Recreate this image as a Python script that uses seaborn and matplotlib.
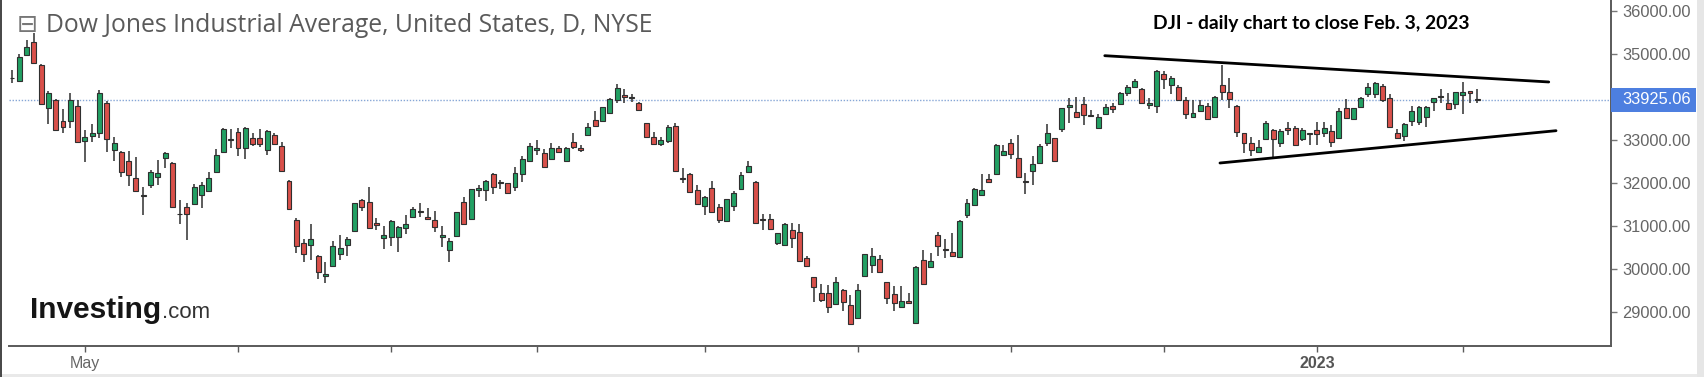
import matplotlib
matplotlib.use("Agg")
import matplotlib.pyplot as plt
import matplotlib.patches as mpatches
import seaborn as sns
import pandas as pd
import numpy as np

sns.set_theme(style="white")
plt.rcParams['font.family'] = ['Liberation Sans', 'DejaVu Sans']

# trading calendar of the chart (NYSE daily)
START_DATE = "2022-04-18"
END_DATE = "2023-02-03"
HOLIDAYS = ["2022-05-30", "2022-06-20", "2022-07-04", "2022-09-05",
            "2022-11-24", "2022-12-26", "2023-01-02", "2023-01-16"]

opens = [34425, 34374, 34971, 35266, 34739, 33746, 33925, 33437, 33437, 33792,
         32972, 33095, 33151, 33862, 32762, 32709, 32507, 32118, 31693, 31949,
         32142, 32584, 32467, 31282, 31444, 31507, 31716, 31816, 32244, 32723,
         33018, 33174, 32802, 33035, 33035, 32762, 33111, 32856, 32049, 31135,
         30607, 30554, 30298, 29840, 30072, 30345, 30554, 30879, 31600, 31560,
         31058, 30709, 30733, 30733, 30942, 31198, 31344, 31212, 31135, 30747,
         30437, 30763, 31560, 31151, 31833, 31833, 32198, 32002, 31988, 31895,
         32204, 32514, 32762, 32686, 32553, 32816, 32514, 32955, 32816, 33111,
         33460, 33437, 33630, 33925, 34030, 33972, 33848, 33383, 33072, 32902,
         32979, 33321, 32105, 32204, 31833, 31461, 31872, 31430, 31119, 31467,
         31856, 32244, 32025, 31158, 31158, 30593, 30554, 30902, 30863, 30245,
         29817, 29445, 29431, 29182, 29508, 29159, 28849, 29833, 30089, 30221,
         29701, 29415, 29105, 29252, 28747, 30205, 30035, 30786, 30449, 30384,
         30268, 31251, 31484, 31716, 32081, 32204, 32646, 32918, 32570, 32042,
         32281, 32467, 32918, 33035, 33244, 33769, 33653, 33832, 33576, 33267,
         33600, 33786, 33825, 34095, 34220, 34174, 33820, 33786, 34530, 34274,
         34220, 33925, 33537, 33676, 33786, 33537, 34274, 34118, 33786, 33151,
         32918, 32723, 33011, 33228, 32932, 33267, 33267, 33011, 33135, 33228,
         33151, 33211, 33035, 33732, 33483, 33755, 34058, 34058, 34251, 33978,
         33165, 33088, 33437, 33420, 33537, 33885, 33988, 33862, 33825, 34041,
         34141, 33937]

closes = [34437, 34918, 35164, 34778, 33825, 34081, 33228, 33304, 33925, 32955,
          33072, 33151, 34081, 33018, 32918, 32244, 32181, 31816, 31716, 32258,
          32235, 32686, 31444, 31263, 31268, 31909, 31949, 32118, 32646, 33244,
          32988, 32802, 33281, 32895, 32895, 33211, 32902, 32274, 31391, 30531,
          30345, 30686, 29933, 29880, 30538, 30477, 30686, 31523, 31430, 30942,
          31026, 30786, 31119, 30965, 31042, 31391, 31328, 31158, 30979, 30786,
          30654, 31314, 31035, 31849, 31872, 32049, 31895, 32025, 31756, 32221,
          32546, 32856, 32816, 32374, 32816, 32723, 32816, 32825, 32762, 33304,
          33327, 33755, 33941, 34197, 34006, 33995, 33692, 33058, 32902, 32995,
          33304, 32281, 32077, 31779, 31507, 31677, 31314, 31135, 31616, 31770,
          32181, 32391, 31072, 31142, 30919, 30826, 31042, 30709, 30189, 30066,
          29584, 29275, 29119, 29701, 29235, 28717, 29508, 30337, 30298, 29933,
          29315, 29198, 29252, 29198, 30049, 29647, 30189, 30531, 30426, 30305,
          31119, 31537, 31849, 31833, 32025, 32879, 32746, 32670, 32142, 32019,
          32437, 32856, 33165, 32514, 33732, 33809, 33537, 33576, 33553, 33537,
          33769, 33709, 34095, 34220, 34374, 33848, 33844, 34606, 34406, 34430,
          33925, 33600, 33616, 33809, 33476, 34002, 34118, 33941, 33188, 32918,
          32762, 32839, 33383, 33011, 33211, 33228, 32879, 33228, 33165, 33135,
          33281, 32955, 33676, 33500, 33732, 33965, 34220, 34327, 33925, 33304,
          33035, 33367, 33669, 33769, 33769, 33978, 34018, 33709, 34118, 34118,
          34081, 33925.06]

highs = [34622, 34988, 35320, 35476, 34762, 34134, 33948, 33716, 34081, 33925,
         33228, 33360, 34158, 33902, 33072, 32739, 32739, 32607, 31909, 32298,
         32530, 32723, 32490, 31600, 31537, 31965, 32025, 32258, 32779, 33267,
         33244, 33267, 33297, 33151, 33244, 33228, 33165, 32955, 32065, 31175,
         30686, 31042, 30321, 30166, 30647, 30786, 30747, 31530, 31616, 31909,
         31175, 30996, 31135, 30996, 31251, 31430, 31537, 31407, 31351, 31002,
         30709, 31321, 31677, 31856, 31949, 32065, 32235, 32065, 31995, 32374,
         32623, 32932, 32995, 32779, 32918, 32856, 32825, 33151, 32879, 33383,
         33669, 33762, 33965, 34297, 34181, 34065, 33885, 33390, 33188, 33072,
         33344, 33383, 32337, 32228, 31949, 31693, 32049, 31507, 31623, 31816,
         32244, 32514, 32042, 31275, 31275, 30840, 31058, 31072, 31042, 30298,
         29817, 29647, 29624, 29817, 29524, 29391, 29647, 30345, 30477, 30321,
         29701, 29601, 29601, 29445, 30066, 30437, 30361, 30863, 30686, 30826,
         31135, 31616, 31872, 32204, 32204, 32902, 32879, 33011, 33111, 32221,
         32623, 32902, 33367, 33042, 33732, 33965, 33988, 34002, 33692, 33593,
         33825, 33848, 34118, 34274, 34406, 34197, 33965, 34622, 34606, 34483,
         34274, 34002, 33925, 33925, 33848, 34018, 34739, 34430, 33809, 33165,
         33058, 32995, 33444, 33244, 33244, 33420, 33321, 33267, 33165, 33420,
         33420, 33344, 33732, 33941, 33739, 33988, 34327, 34350, 34297, 34058,
         33244, 33397, 33786, 33786, 33786, 33978, 34174, 34081, 34118, 34350,
         34141, 34174]

lows = [34320, 34367, 34960, 34755, 33809, 33360, 33204, 33151, 33281, 32918,
        32490, 32942, 33035, 32723, 32507, 32142, 31926, 31809, 31251, 31872,
        31949, 32351, 31421, 31035, 30670, 31495, 31407, 31793, 32235, 32709,
        32802, 32623, 32546, 32856, 32839, 32646, 32879, 32263, 31379, 30375,
        30166, 30205, 29763, 29677, 30066, 30205, 30298, 30868, 31351, 30930,
        30902, 30454, 30531, 30398, 30803, 31175, 31212, 31151, 30863, 30514,
        30166, 30751, 31019, 31147, 31677, 31577, 31740, 31856, 31740, 31816,
        32025, 32507, 32646, 32367, 32546, 32700, 32507, 32779, 32723, 33100,
        33321, 33425, 33600, 33862, 33855, 33885, 33676, 33042, 32890, 32862,
        32925, 32274, 31988, 31763, 31495, 31251, 31291, 31072, 31112, 31351,
        31844, 32235, 31042, 30902, 30902, 30554, 30531, 30477, 30182, 30049,
        29235, 29235, 28980, 29159, 29026, 28717, 28845, 29833, 29896, 29896,
        29182, 29026, 29082, 29182, 28717, 29636, 30012, 30298, 30245, 30268,
        30263, 31175, 31461, 31705, 32002, 32181, 32623, 32546, 32142, 31740,
        31949, 32437, 32856, 32507, 33188, 33383, 33530, 33344, 33530, 33244,
        33576, 33616, 33809, 34018, 34197, 33832, 33709, 33616, 34174, 34065,
        33913, 33476, 33523, 33653, 33460, 33523, 33925, 33732, 33058, 32700,
        32623, 32700, 32995, 32593, 32825, 33111, 32856, 32979, 32879, 32879,
        33072, 32825, 33030, 33476, 33460, 33732, 34002, 33965, 33885, 33267,
        33011, 32979, 33321, 33344, 33304, 33676, 33848, 33692, 33709, 33600,
        33848, 33862]

LAST_PRICE = 33925.06
# 34000 sits under the last-price tag, so it is not listed
Y_TICKS = [29000, 30000, 31000, 32000, 33000, 35000, 36000]

# hand-drawn triangle (bar index, price)
upper_x = [149.9, 210.8]
upper_y = [34955, 34344]
lower_x = [165.7, 211.8]
lower_y = [32460, 33211]

TITLE = "Dow Jones Industrial Average, United States, D, NYSE"
NOTE = "DJI - daily chart to close Feb. 3, 2023"

UP_COLOR = "#22a063"
DOWN_COLOR = "#d9504a"
EDGE_COLOR = "#2f2f2f"
AXIS_GRAY = "#5a5a5a"

dates = pd.bdate_range(START_DATE, END_DATE)
dates = dates[~dates.isin(pd.to_datetime(HOLIDAYS))]
df = pd.DataFrame({"date": dates, "open": opens, "high": highs,
                   "low": lows, "close": closes})
df["i"] = np.arange(len(df))
df["up"] = df["close"] >= df["open"]
df["bottom"] = df[["open", "close"]].min(axis=1)
df["body"] = (df["close"] - df["open"]).abs().clip(lower=18)

W, H = 1704, 377
fig = plt.figure(figsize=(W / 100, H / 100), dpi=100)
fig.patch.set_facecolor("white")
ax = fig.add_axes([9 / W, 31 / H, (1611 - 9) / W, 346 / H])
ax.set_facecolor("white")

# candles
ax.vlines(df["i"], df["low"], df["high"], color=EDGE_COLOR, lw=1.1, zorder=2)
ax.bar(df["i"], df["body"], bottom=df["bottom"], width=0.68,
       color=np.where(df["up"], UP_COLOR, DOWN_COLOR),
       edgecolor=EDGE_COLOR, linewidth=0.8, zorder=3)

# triangle lines
sns.lineplot(x=upper_x, y=upper_y, color="black", lw=2, ax=ax, zorder=4)
sns.lineplot(x=lower_x, y=lower_y, color="black", lw=2, ax=ax, zorder=4)

# last price line
ax.axhline(LAST_PRICE, color="#86a6d6", ls=(0, (1, 1.2)), lw=1.0, zorder=1)

ax.set_xlim(-0.41, 219.34)
ax.set_ylim(28205, 36250)

# axes cosmetics
for s in ["top", "left"]:
    ax.spines[s].set_visible(False)
for s in ["right", "bottom"]:
    ax.spines[s].set_color(AXIS_GRAY)
    ax.spines[s].set_linewidth(1.4)
ax.yaxis.tick_right()
ax.set_yticks(Y_TICKS)
ax.set_yticklabels([f"{t:.2f}" for t in Y_TICKS])
ax.tick_params(axis="y", right=True, length=4, width=1, color="#777777",
               labelsize=11.8, labelcolor="#666666", pad=4)

month_first = df.groupby(df["date"].dt.to_period("M"))["i"].min()
month_first = month_first[month_first > 0]
ax.set_xticks(month_first.values)
labels = []
for p in month_first.index:
    if p.month == 5:
        labels.append("May")
    elif p.month == 1:
        labels.append(str(p.year))
    else:
        labels.append("")
ax.set_xticklabels(labels)
ax.tick_params(axis="x", bottom=True, length=4, width=1, color=AXIS_GRAY,
               labelsize=11.5, labelcolor="#666666", pad=3)
for lab in ax.get_xticklabels():
    if lab.get_text() == "2023":
        lab.set_fontweight("bold")
        lab.set_color("#555555")
ax.set_ylabel("")
ax.set_xlabel("")
ax.grid(False)

# last price tag on the axis
y0, y1 = ax.get_ylim()
half = 12 / 346 * (y1 - y0)
ax.add_patch(mpatches.Rectangle((1.0, LAST_PRICE - half), 85 / 1602, 2 * half,
                                transform=ax.get_yaxis_transform(),
                                facecolor="#4d7fe0", edgecolor="none",
                                clip_on=False, zorder=5))
ax.text(1.0 + 11 / 1602, LAST_PRICE, f"{LAST_PRICE:.2f}",
        transform=ax.get_yaxis_transform(), color="white", fontsize=11.8,
        va="center", ha="left", zorder=6, clip_on=False)

# header texts
fig.text(17 / W, 1 - 25 / H, "\u229f", family="DejaVu Sans", fontsize=18,
         color="#777777", va="center", ha="left")
fig.text(46 / W, 1 - 25 / H, TITLE, family="Open Sans", fontsize=17.8,
         color="#5a5a5a", va="center", ha="left")
fig.text(1153 / W, 1 - 23 / H, NOTE, family="Lato", fontweight="bold",
         fontsize=13.9, color="black", va="center", ha="left")

# investing.com logo text
logo = fig.text(30 / W, 59 / H, "Investing", family="Liberation Sans",
                fontweight="bold", fontsize=21.5, color="#151515",
                va="baseline", ha="left")
fig.canvas.draw()
bb = logo.get_window_extent()
fig.text(bb.x1 / W + 1 / W, 59 / H, ".com", family="Liberation Sans",
         fontsize=16, color="#333333", va="baseline", ha="left")

# frame strips
fig.add_artist(mpatches.Rectangle((0, 0), 1, 3 / H, transform=fig.transFigure,
                                  facecolor="#e9e9e9", edgecolor="none"))
fig.add_artist(mpatches.Rectangle((1697 / W, 0), 7 / W, 1, transform=fig.transFigure,
                                  facecolor="#e6e6e6", edgecolor="none"))
fig.add_artist(mpatches.Rectangle((0, 0), 2 / W, 1, transform=fig.transFigure,
                                  facecolor="#4a4a4a", edgecolor="none"))

fig.savefig("out.png", dpi=100, facecolor="white")
